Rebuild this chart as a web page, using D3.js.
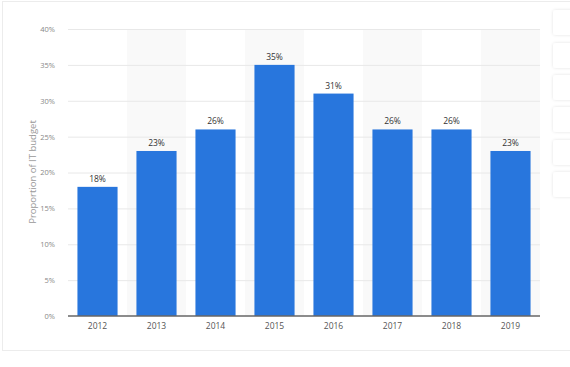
<!DOCTYPE html>
<html><head><meta charset="utf-8">
<script src="https://cdn.jsdelivr.net/npm/d3@7"></script>
<style>body{margin:0;background:#fff;font-family:"Open Sans","Noto Sans",sans-serif;}</style>
</head><body>
<svg id="c" width="570" height="367"></svg>
<script>
const years = ["2012","2013","2014","2015","2016","2017","2018","2019"];
const shares = [18,23,26,35,31,26,26,23];
const yTicks = [0,5,10,15,20,25,30,35,40];

const svg = d3.select("#c");
// container frame
svg.append("rect").attr("x",2.5).attr("y",1.5).attr("width",600).attr("height",349)
  .attr("fill","#fff").attr("stroke","#ececec");
// side buttons
const btnY = [10,43,75,107,140,172];
const defs = svg.append("defs");
const f = defs.append("filter").attr("id","sh").attr("x","-50%").attr("y","-50%").attr("width","200%").attr("height","200%");
f.append("feDropShadow").attr("dx",0).attr("dy",0).attr("stdDeviation",1.5).attr("flood-color","#000").attr("flood-opacity",0.12);
svg.selectAll(".btn").data(btnY).enter().append("rect")
  .attr("x",553).attr("y",d=>d).attr("width",30).attr("height",25).attr("rx",3)
  .attr("fill","#fff").attr("filter","url(#sh)");

const m = {l:68, r:540, t:29, b:316};
const x = d3.scaleBand().domain(years).range([m.l,m.r]).paddingInner(0.32).paddingOuter(0.16);
const y = d3.scaleLinear().domain([0,40]).range([m.b,m.t]);
const step = x.step();

// alternating bands
svg.selectAll(".band").data(years.filter((d,i)=>i%2===1)).enter().append("rect")
  .attr("x",d=>x(d)-x.paddingInner()*step/2).attr("y",m.t).attr("width",step).attr("height",m.b-m.t)
  .attr("fill","#f9f9f9");

// gridlines
svg.selectAll(".grid").data(yTicks.filter(d=>d>0)).enter().append("line")
  .attr("x1",m.l).attr("x2",m.r).attr("y1",d=>y(d)+0.5).attr("y2",d=>y(d)+0.5)
  .attr("stroke","#e8e8e8").attr("stroke-width",1);

// y axis
const ya = svg.append("g").attr("transform",`translate(${m.l-10},0)`)
  .call(d3.axisLeft(y).tickValues(yTicks).tickFormat(d=>d+"%").tickSize(0));
ya.select(".domain").remove();
ya.selectAll("text").attr("fill","#888").attr("font-size","7.5px").attr("font-family","'Open Sans',sans-serif");

// bars
svg.selectAll(".bar").data(years).enter().append("rect")
  .attr("x",d=>x(d)).attr("y",(d,i)=>y(shares[i])).attr("width",x.bandwidth())
  .attr("height",(d,i)=>m.b-y(shares[i])).attr("fill","#2876dd");

// value labels
svg.selectAll(".val").data(years).enter().append("text")
  .attr("x",d=>x(d)+x.bandwidth()/2).attr("y",(d,i)=>y(shares[i])-5)
  .attr("text-anchor","middle").attr("font-size","8.5px").attr("fill","#333")
  .attr("font-family","'Open Sans',sans-serif")
  .text((d,i)=>shares[i]+"%");

// x axis
const xa = svg.append("g").attr("transform",`translate(0,${m.b})`)
  .call(d3.axisBottom(x).tickSize(0).tickPadding(7));
xa.select(".domain").attr("stroke","#666").attr("stroke-width",1.5).attr("d",`M${m.l},0H${m.r}`);
xa.selectAll("text").attr("fill","#555").attr("font-size","8.5px").attr("font-family","'Open Sans',sans-serif");

// y title
svg.append("text").attr("transform",`translate(36,172) rotate(-90)`)
  .attr("text-anchor","middle").attr("font-size","9.5px").attr("fill","#999")
  .attr("font-family","'Open Sans',sans-serif").text("Proportion of IT budget");
</script>
</body></html>
